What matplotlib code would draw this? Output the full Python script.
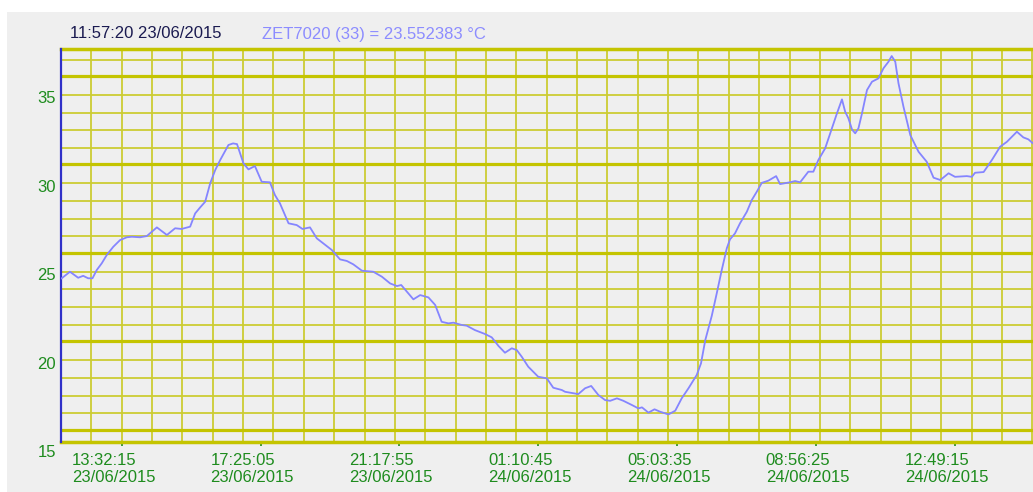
import numpy as np
import matplotlib.pyplot as plt
from matplotlib.patches import Rectangle
from matplotlib.transforms import ScaledTranslation, blended_transform_factory

plt.rcParams['font.family'] = ['Liberation Sans', 'DejaVu Sans']

# hours since 00:00 23/06/2015, temperature in degC
hours = [11.86, 12.09, 12.32, 12.46, 12.60, 12.72, 12.84, 12.98, 13.12, 13.30,
         13.49, 13.68, 13.82, 14.05, 14.24, 14.52, 14.80, 15.03, 15.21, 15.45,
         15.59, 15.73, 15.87, 16.01, 16.15, 16.29, 16.52, 16.65, 16.76, 16.94,
         17.08, 17.26, 17.45, 17.68, 17.82, 17.96, 18.20, 18.43, 18.59, 18.80,
         18.99, 19.17, 19.41, 19.64, 19.83, 20.01, 20.25, 20.57, 20.81, 21.04,
         21.23, 21.35, 21.51, 21.69, 21.88, 22.11, 22.30, 22.48, 22.67, 22.81,
         23.04, 23.18, 23.41, 23.69, 23.88, 24.07, 24.25, 24.44, 24.58, 24.72,
         24.90, 25.18, 25.42, 25.60, 25.84, 25.93, 26.30, 26.49, 26.66, 26.86,
         27.05, 27.19, 27.38, 27.56, 27.80, 27.98, 28.08, 28.26, 28.43, 28.59,
         28.82, 29.01, 29.19, 29.38, 29.61, 29.73, 29.85, 30.03, 30.17, 30.31,
         30.45, 30.54, 30.68, 30.82, 31.01, 31.15, 31.29, 31.43, 31.61, 31.83,
         31.94, 32.22, 32.36, 32.50, 32.73, 32.87, 33.01, 33.20, 33.39, 33.53,
         33.67, 33.76, 33.85, 33.95, 34.04, 34.13, 34.23, 34.37, 34.51, 34.69,
         34.83, 34.97, 35.06, 35.16, 35.25, 35.39, 35.58, 35.81, 36.04, 36.23,
         36.42, 36.65, 36.83, 37.16, 37.30, 37.39, 37.63, 37.86, 38.09, 38.28,
         38.56, 38.74, 38.88, 39.01]
temp_c = [24.63, 25.00, 24.66, 24.77, 24.63, 24.63, 25.10, 25.48, 25.95, 26.41,
          26.79, 26.95, 26.98, 26.95, 27.02, 27.51, 27.08, 27.46, 27.42, 27.55,
          28.30, 28.64, 28.96, 30.00, 30.75, 31.32, 32.17, 32.26, 32.22, 31.13,
          30.79, 30.98, 30.09, 30.06, 29.34, 28.87, 27.74, 27.64, 27.42, 27.51,
          26.89, 26.61, 26.23, 25.70, 25.61, 25.42, 25.06, 25.00, 24.72, 24.34,
          24.19, 24.25, 23.87, 23.44, 23.68, 23.55, 23.12, 22.17, 22.08, 22.12,
          21.99, 21.95, 21.70, 21.48, 21.29, 20.80, 20.42, 20.67, 20.57, 20.19,
          19.63, 19.06, 18.97, 18.44, 18.31, 18.21, 18.08, 18.41, 18.54, 18.03,
          17.74, 17.70, 17.84, 17.70, 17.46, 17.27, 17.33, 17.03, 17.22, 17.08,
          16.93, 17.14, 17.84, 18.41, 19.16, 19.82, 21.14, 22.50, 23.78, 25.10,
          26.32, 26.83, 27.17, 27.74, 28.39, 29.06, 29.53, 30.03, 30.15, 30.41,
          29.96, 30.06, 30.13, 30.06, 30.66, 30.66, 31.32, 31.98, 33.11, 33.96,
          34.75, 34.05, 33.68, 33.05, 32.83, 33.11, 33.96, 35.28, 35.75, 35.94,
          36.51, 36.88, 37.20, 36.88, 35.66, 34.33, 32.73, 31.79, 31.22, 30.32,
          30.19, 30.57, 30.37, 30.41, 30.37, 30.60, 30.64, 31.32, 32.07, 32.35,
          32.92, 32.60, 32.49, 32.26]

tick_hours = [13.5375, 17.4181, 21.2986, 25.1792, 29.0597, 32.9403, 36.8208]
tick_times = ['13:32:15', '17:25:05', '21:17:55', '01:10:45', '05:03:35', '08:56:25', '12:49:15']
tick_dates = ['23/06/2015'] * 3 + ['24/06/2015'] * 4
y_labels = [15, 20, 25, 30, 35]

x0, x1 = 11.84, 39.01
y0, y1 = 15.37, 37.60

panel = '#EFEFEF'
thin = '#CCCC33'
thick = '#C4C400'
green = '#1E8C1E'

fig = plt.figure(figsize=(10.33, 4.92), dpi=100, facecolor='white')
fig.patches.append(Rectangle((7 / 1033, 0), 1, 480 / 492, transform=fig.transFigure,
                             facecolor=panel, edgecolor='none', zorder=-10))
ax = fig.add_axes([61 / 1033, 50 / 492, 972 / 1033, 393 / 492], zorder=5)
ax.set_facecolor(panel)
ax.set_xlim(x0, x1)
ax.set_ylim(y0, y1)
for s in ax.spines.values():
    s.set_visible(False)

# grid
for xv in np.arange(x0 + 0.8485, x1, 0.8485):
    ax.axvline(xv, color=thin, lw=1.3, zorder=1)
for v in range(17, 38):
    if v % 5 == 1:
        ax.axhline(v + 0.07, color=thick, lw=2.3, zorder=1.5)
    else:
        ax.axhline(v, color=thin, lw=1.3, zorder=1)
ax.axhline(16.07, color=thick, lw=2.3, zorder=1.5)
ax.axhline(y1, color=thick, lw=2.5, zorder=2, clip_on=False)
ax.axhline(y0, color=thick, lw=2.5, zorder=2, clip_on=False)
ax.axvline(x0, color='#3030C8', lw=1.6, zorder=3, clip_on=False)

ax.plot(hours, temp_c, color='#8585FF', lw=1.3, zorder=4)

# x ticks
ax.set_xticks(tick_hours, [t + '\n' + d for t, d in zip(tick_times, tick_dates)])
ax.tick_params(axis='x', direction='out', length=3, width=1.2, color=green,
               labelcolor=green, labelsize=12, pad=5)
off = ScaledTranslation(-50 / 100, 0, fig.dpi_scale_trans)
for lab in ax.get_xticklabels():
    lab.set_horizontalalignment('left')
    lab.set_linespacing(1.15)
    lab.set_transform(lab.get_transform() + off)
ax.set_yticks([])

# y labels
tr = blended_transform_factory(ax.transAxes, ax.transData)
for v in y_labels:
    ax.text(-5 / 972, v - 0.22, str(v), transform=tr, ha='right', va='center',
            color=green, fontsize=12, clip_on=False)

fig.text(70 / 1033, 1 - 34 / 492, '11:57:20 23/06/2015', color='#1A1A50',
         fontsize=12, va='center', ha='left')
fig.text(262 / 1033, 1 - 34 / 492, 'ZET7020 (33) = 23.552383 °C', color='#8C8CFF',
         fontsize=12, va='center', ha='left')

fig.savefig('out.png', dpi=100, facecolor='white')
